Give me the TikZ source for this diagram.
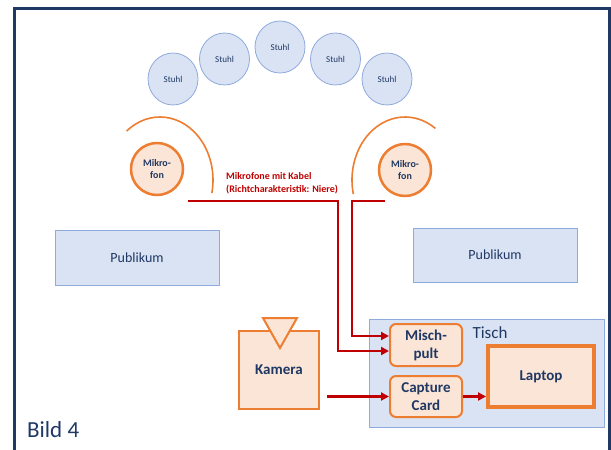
\documentclass[tikz,border=0pt]{standalone}
\usepackage{fontspec}
\setmainfont{Carlito}
\usetikzlibrary{shapes.geometric,arrows.meta}
\definecolor{navy}{HTML}{1F3864}
\definecolor{bfill}{HTML}{DAE3F3}
\definecolor{bline}{HTML}{8FAADC}
\definecolor{ofill}{HTML}{FBE5D6}
\definecolor{oline}{HTML}{ED7D31}
\definecolor{cred}{HTML}{C00000}
\tikzset{
 chair/.style={ellipse, draw=bline, fill=bfill, line width=0.8pt, minimum width=50pt, minimum height=52pt, inner sep=0pt, text=navy, font=\fontsize{9}{10}\selectfont},
 mic/.style={circle, draw=oline, fill=ofill, line width=2.5pt, minimum size=52pt, inner sep=0pt, text=navy, align=center, font=\bfseries\fontsize{10}{12}\selectfont},
 area/.style={draw=bline, fill=bfill, line width=1pt, inner sep=0pt, text=navy},
 dev/.style={draw=oline, fill=ofill, line width=2pt, rounded corners=6pt, inner sep=0pt, text=navy, align=center, font=\bfseries\fontsize{15}{18}\selectfont},
 cable/.style={draw=cred, line width=2.5pt},
 sig/.style={cable, -{Triangle[length=8pt,width=8pt]}},
 arcline/.style={draw=oline, line width=1.6pt},
}
\begin{document}
\begin{tikzpicture}[x=1pt,y=1pt]
\useasboundingbox (0,0) rectangle (611,-450);
% frame
\draw[navy, line width=3pt] (14,-455) -- (14,-8) -- (609,-8) -- (609,-455);
% chairs
\node[chair] (s1) at (173,-79) {Stuhl};
\node[chair] (s2) at (224.5,-59) {Stuhl};
\node[chair] (s3) at (280,-47) {Stuhl};
\node[chair] (s4) at (335.5,-59) {Stuhl};
\node[chair] (s5) at (387,-79) {Stuhl};
% microphone arcs
\draw[arcline] (160,-180) ++(129:53 and 63) arc[start angle=129, end angle=-12, x radius=53, y radius=63];
\draw[arcline] (405,-180) ++(55:53 and 63) arc[start angle=55, end angle=193, x radius=53, y radius=63];
% microphones
\node[mic] (m1) at (157,-169) {Mikro-\\fon};
\node[mic] (m2) at (405,-170) {Mikro-\\fon};
% audience
\node[area, minimum width=164pt, minimum height=55pt, font=\fontsize{14}{16}\selectfont] (p1) at (137,-257.5) {Publikum};
\node[area, minimum width=164pt, minimum height=54pt, font=\fontsize{14}{16}\selectfont] (p2) at (495,-255) {Publikum};
% table
\node[area, minimum width=235pt, minimum height=108pt] (tisch) at (486.5,-373) {};
\node[text=navy, font=\fontsize{17}{20}\selectfont, anchor=base west] (tl) at (469,-338) {Tisch};
% devices
\node[dev, minimum width=72pt, minimum height=42pt] (misch) at (426,-345) {Misch-\\pult};
\node[dev, minimum width=72pt, minimum height=41pt] (cap) at (426,-396.5) {Capture\\Card};
\node[dev, rounded corners=0pt, line width=4pt, minimum width=106pt, minimum height=61pt] (lap) at (541,-376.5) {Laptop};
\node[dev, rounded corners=0pt, minimum width=80pt, minimum height=78pt] (kam) at (279,-370) {Kamera};
\draw[oline, fill=ofill, line width=2pt, line join=miter] (263,-318) -- (297,-318) -- (280,-348) -- cycle;
% cables
\coordinate (c1s) at (188,-201);
\coordinate (c2s) at (385,-201);
\coordinate (kout) at (327,-396.5);
\draw[sig] (c1s) -- (338,-201) -- (338,-351) -- (misch.west |- 0,-351);
\draw[sig] (c2s) -- (352,-201) -- (352,-336) -- (misch.west |- 0,-336);
\draw[sig] (kout) -- (cap.west);
\draw[sig] (cap.east) -- (cap.east -| lap.west);
% label
\node[anchor=north west, text=cred, align=left, inner sep=0pt, font=\bfseries\fontsize{10}{13}\selectfont] (lbl) at (226,-172) {Mikrofone mit Kabel\\(Richtcharakteristik: Niere)};
\node[anchor=base west, text=navy, inner sep=0pt, font=\fontsize{23}{26}\selectfont] (bild) at (27,-437) {Bild 4};
\end{tikzpicture}
\end{document}
